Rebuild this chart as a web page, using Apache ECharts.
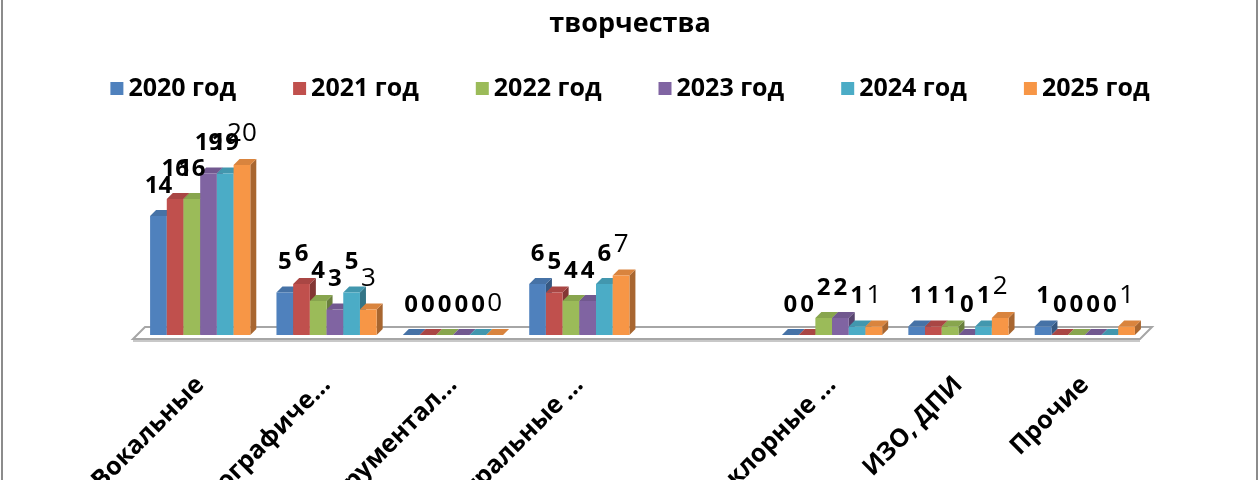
<!DOCTYPE html>
<html>
<head>
<meta charset="utf-8">
<script src="https://cdn.jsdelivr.net/npm/echarts@6/dist/echarts.min.js"></script>
<style>
  html, body { margin: 0; padding: 0; background: #fff; }
  #chart { width: 1260px; height: 480px; }
  #frame {
    position: absolute; left: 1px; top: -5px; width: 1253px; height: 500px;
    border-left: 2px solid #8c8c8c; border-right: 2px solid #8c8c8c;
    pointer-events: none;
  }
</style>
</head>
<body>
<div id="chart"></div>
<div id="frame"></div>
<script>
// categories (the 5th slot is empty in the source sheet)
const categories = ['Вокальные', 'Хореографиче...', 'Инструментал...', 'Театральные ...', '', 'Фольклорные ...', 'ИЗО, ДПИ', 'Прочие'];
const years = ['2020 год', '2021 год', '2022 год', '2023 год', '2024 год', '2025 год'];
const y2020 = [14, 5, 0, 6, null, 0, 1, 1];
const y2021 = [16, 6, 0, 5, null, 0, 1, 0];
const y2022 = [16, 4, 0, 4, null, 2, 1, 0];
const y2023 = [19, 3, 0, 4, null, 2, 0, 0];
const y2024 = [19, 5, 0, 6, null, 1, 1, 0];
const y2025 = [20, 3, 0, 7, null, 1, 2, 1];

const colors = ['#4F81BD', '#C0504D', '#9BBB59', '#8064A2', '#4BACC6', '#F79646'];
const values = [y2020, y2021, y2022, y2023, y2024, y2025];
const FONT = '"Open Sans", "Noto Sans", sans-serif';
const BAR_W = 16.7;
const DEPTH = 6;

function shade(hex, f) {
  let n = parseInt(hex.slice(1), 16);
  let r = (n >> 16) & 255, g = (n >> 8) & 255, b = n & 255;
  let m = v => Math.max(0, Math.min(255, Math.round(v * f)));
  return 'rgb(' + m(r) + ',' + m(g) + ',' + m(b) + ')';
}

// side and top faces, drawn under the flat bars
function renderDepth(si) {
  return function (params, api) {
    let val = api.value(1);
    if (val == null || isNaN(val)) return;
    let cat = api.value(0);
    let base = api.coord([cat, 0]);
    let top = api.coord([cat, val]);
    let w = BAR_W, d = DEPTH;
    let x0 = base[0] - 3 * w + si * w;
    let y0 = base[1], y1 = top[1];
    let c = colors[si];
    return {
      type: 'group',
      children: [
        { type: 'polygon', shape: { points: [[x0 + w, y1], [x0 + w + d, y1 - d], [x0 + w + d, y0 - d], [x0 + w, y0]] },
          style: { fill: shade(c, 0.68) } },
        { type: 'polygon', shape: { points: [[x0, y1], [x0 + d, y1 - d], [x0 + w + d, y1 - d], [x0 + w, y1]] },
          style: { fill: shade(c, 0.88) } }
      ]
    };
  };
}

// data labels that would collide get lifted above the earlier ones of the same group
const PAD = 2;
let placed = {};
function stackLabels(p) {
  if (p.seriesIndex === years.length) placed = {};
  let list = placed[p.dataIndex] || (placed[p.dataIndex] = []);
  let r = p.labelRect;
  let x1 = r.x + PAD, x2 = r.x + r.width - PAD;
  let top = r.y + PAD, bot = r.y + r.height - PAD;
  let dy = 0;
  for (let iter = 0; iter < 10; iter++) {
    let moved = false;
    for (let q of list) {
      if (x1 < q.x2 && x2 > q.x1 && top + dy < q.bot && bot + dy > q.top) {
        dy = q.top - bot;
        moved = true;
      }
    }
    if (!moved) break;
  }
  list.push({ x1: x1, x2: x2, top: top + dy, bot: bot + dy });
  return { dy: dy };
}

let series = [];
years.forEach((name, si) => {
  series.push({
    name: name + ' 3d',
    type: 'custom',
    z: 1,
    silent: true,
    renderItem: renderDepth(si),
    encode: { x: 0, y: 1 },
    data: values[si].map((v, i) => [i, v]).filter(p => p[1] != null)
  });
});
years.forEach((name, si) => {
  let bold = si !== 5;
  series.push({
    name: name,
    type: 'bar',
    z: 2,
    barWidth: BAR_W,
    barGap: '0%',
    itemStyle: { color: colors[si] },
    label: {
      show: true, position: 'top', distance: 18,
      fontFamily: FONT, fontSize: bold ? 24 : 26, fontWeight: bold ? 'bold' : 'normal', color: '#000'
    },
    labelLayout: stackLabels,
    data: values[si]
  });
});

let option = {
  animation: false,
  backgroundColor: '#fff',
  title: {
    text: 'творчества',
    left: 'center',
    top: 6,
    textStyle: { fontFamily: FONT, fontSize: 27, fontWeight: 'bold', color: '#000' }
  },
  legend: {
    data: years,
    top: 71,
    left: 'center',
    itemWidth: 13,
    itemHeight: 13,
    itemGap: 57,
    icon: 'rect',
    textStyle: { fontFamily: FONT, fontSize: 25, fontWeight: 'bold', color: '#000' }
  },
  grid: { left: 137, right: 112, top: 131, bottom: 145, outerBoundsMode: 'none', containLabel: false },
  xAxis: {
    type: 'category',
    data: categories,
    axisLine: { show: false },
    axisTick: { show: false },
    axisLabel: {
      interval: 0, rotate: 45, margin: 46,
      fontFamily: FONT, fontSize: 25, fontWeight: 'bold', color: '#000'
    }
  },
  yAxis: {
    type: 'value', min: 0, max: 24,
    show: false,
    splitLine: { show: false }
  },
  series: series
};

let chart = echarts.init(document.getElementById('chart'));
chart.setOption(option);

// floor plane under the columns
let c0 = chart.convertToPixel({ xAxisIndex: 0 }, 0);
let c1 = chart.convertToPixel({ xAxisIndex: 0 }, categories.length - 1);
let band = (c1 - c0) / (categories.length - 1);
let yb = chart.convertToPixel({ yAxisIndex: 0 }, 0);
let xl = c0 - band / 2 - 4, xr = c1 + band / 2 - 8;
chart.setOption({
  graphic: [{
    type: 'polygon', z: -1,
    shape: { points: [[xl, yb + 4], [xl + 12, yb - 8], [xr + 12, yb - 8], [xr, yb + 4]] },
    style: { fill: '#fff', stroke: '#a6a6a6', lineWidth: 2 }
  }, {
    type: 'line', z: -1,
    shape: { x1: xl, y1: yb + 6, x2: xr, y2: yb + 6 },
    style: { stroke: '#c8c8c8', lineWidth: 2 }
  }]
});
</script>
</body>
</html>
